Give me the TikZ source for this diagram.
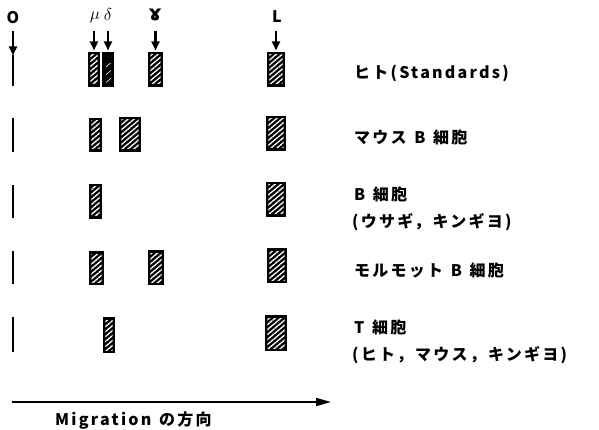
\documentclass[tikz,border=0pt]{standalone}
\usepackage{fontspec}
\usetikzlibrary{arrows.meta,patterns.meta}
\setmainfont{Noto Sans CJK JP}
\newfontfamily\jpsp{Noto Sans CJK JP}[LetterSpace=14,WordSpace=1.3]
\newfontfamily\jpn{Noto Sans CJK JP}
\newfontfamily\dvs{DejaVu Sans}
\begin{document}
\begin{tikzpicture}[x=1pt,y=-1pt,
  band/.style={fill=black,inner sep=0pt,outer sep=0pt,
    path picture={
      \begin{scope}
      \clip ([shift={(2.4pt,3pt)}]path picture bounding box.south west) rectangle ([shift={(-2.4pt,-3pt)}]path picture bounding box.north east);
      \fill[pattern={Lines[angle=40,distance=3.8pt,line width=1.3pt]},pattern color=white]
        (path picture bounding box.south west) rectangle (path picture bounding box.north east);
      \end{scope}}},
  darkband/.style={fill=black,inner sep=0pt,outer sep=0pt,
    path picture={
      \begin{scope}
      \clip ([shift={(4pt,4pt)}]path picture bounding box.south west) rectangle ([shift={(-3pt,-12pt)}]path picture bounding box.north east);
      \fill[pattern={Lines[angle=40,distance=6pt,line width=0.6pt]},pattern color=white]
        (path picture bounding box.south west) rectangle (path picture bounding box.north east);
      \end{scope}}},
  wellline/.style={fill=black,inner sep=0pt,outer sep=0pt,minimum width=2pt},
  lab/.style={font=\jpsp\bfseries\fontsize{16}{27}\selectfont,inner sep=0pt,align=left,anchor=west},
  toplab/.style={font=\jpn\bfseries\fontsize{16}{16}\selectfont,inner sep=0pt},
  greek/.style={font=\fontsize{17}{17}\selectfont,inner sep=0pt},
  arr/.style={line width=2.2pt,-{Triangle[length=9pt,width=8pt]}},
  bigarr/.style={line width=1.8pt,-{Triangle[length=15pt,width=8pt]}}
]
\useasboundingbox (0,0) rectangle (599,430);

% top labels
\node[toplab] (lO) at (13,18) {O};
\node[greek] (lmu) at (95,17) {$\mu$};
\node[greek] (ldel) at (108,15) {$\delta$};
\node[toplab,font=\dvs\bfseries\fontsize{21}{21}\selectfont] (lgam) at (155,15) {ɤ};
\node[toplab] (lL) at (277,17) {L};

% row 1
\node[wellline,minimum height=31pt] (o1) at (13,71) {};
\node[band,minimum width=12pt,minimum height=35pt] (b1mu) at (94,69.5) {};
\node[darkband,minimum width=12pt,minimum height=35pt] (b1del) at (108,69.5) {};
\node[band,minimum width=15pt,minimum height=35pt] (b1gam) at (155.5,69.5) {};
\node[band,minimum width=18pt,minimum height=35pt] (b1L) at (276,69.5) {};

% arrows
\draw[arr] (o1.north |- 0,31) -- (o1.north);
\draw[arr] (b1mu.north |- 0,31) -- ([yshift=1.5pt]b1mu.north);
\draw[arr] (b1del.north |- 0,31) -- ([yshift=1.5pt]b1del.north);
\draw[arr] (b1gam.north |- 0,31) -- ([yshift=1.5pt]b1gam.north);
\draw[arr] (b1L.north |- 0,31) -- ([yshift=1.5pt]b1L.north);

% row 2
\node[wellline,minimum height=34pt] (o2) at (13,135.5) {};
\node[band,minimum width=13pt,minimum height=34pt] (b2a) at (95.5,135) {};
\node[band,minimum width=22pt,minimum height=35pt] (b2b) at (130,134.5) {};
\node[band,minimum width=20pt,minimum height=35pt] (b2L) at (276,133.5) {};

% row 3
\node[wellline,minimum height=33pt] (o3) at (13,201.5) {};
\node[band,minimum width=13pt,minimum height=35pt] (b3a) at (95.5,201.5) {};
\node[band,minimum width=20pt,minimum height=35pt] (b3L) at (276,199.5) {};

% row 4
\node[wellline,minimum height=33pt] (o4) at (13,267) {};
\node[band,minimum width=15pt,minimum height=34pt] (b4a) at (96.5,268) {};
\node[band,minimum width=16pt,minimum height=35pt] (b4b) at (156,267.5) {};
\node[band,minimum width=20pt,minimum height=35pt] (b4L) at (277,265.5) {};

% row 5
\node[wellline,minimum height=35pt] (o5) at (13,334.5) {};
\node[band,minimum width=12pt,minimum height=36pt] (b5a) at (109,335) {};
\node[band,minimum width=22pt,minimum height=36pt] (b5L) at (276,333) {};

% row labels
\node[lab] (t1) at (354,73) {ヒト(Standards)};
\node[lab] (t2) at (354,137) {マウス B 細胞};
\node[lab] (t3) at (352,208.5) {\hspace*{2pt}B 細胞\\(ウサギ，キンギヨ)};
\node[lab] (t4) at (354,270) {モルモット B 細胞};
\node[lab] (t5) at (352,341.5) {\hspace*{2pt}T 細胞\\(ヒト，マウス，キンギヨ)};

% migration arrow
\coordinate (m0) at (12,402);
\coordinate (m1) at (331,402);
\draw[bigarr] (m0) -- (m1);
\node[lab] (mig) at (55,421) {Migration の方向};
\end{tikzpicture}
\end{document}
